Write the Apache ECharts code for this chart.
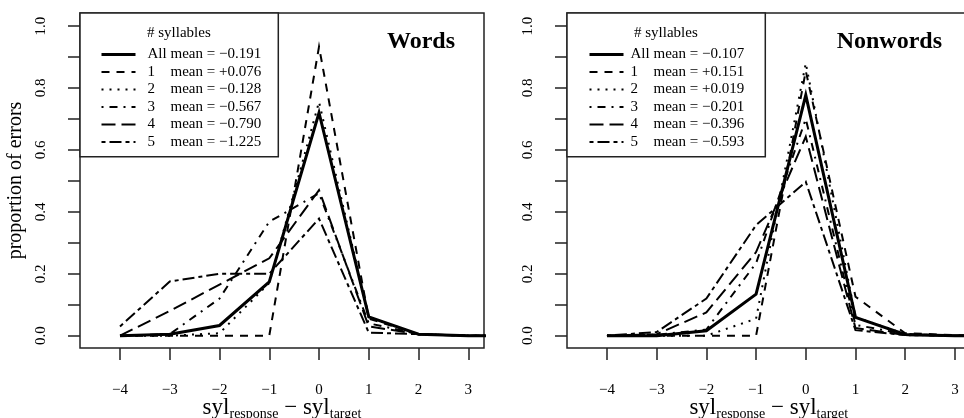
<!DOCTYPE html>
<html>
<head>
<meta charset="utf-8">
<script src="https://cdn.jsdelivr.net/npm/echarts@6/dist/echarts.min.js"></script>
<style>
  html, body { margin: 0; padding: 0; background: #fff; }
  #chart { width: 964px; height: 418px; }
</style>
</head>
<body>
<div id="chart"></div>
<script>
// Difference in syllable count between response and target
const xs = [-4, -3, -2, -1, 0, 1, 2, 3, 4];
const xTicks = [-4, -3, -2, -1, 0, 1, 2, 3];
const yTicks = [0, 0.1, 0.2, 0.3, 0.4, 0.5, 0.6, 0.7, 0.8, 0.9, 1.0];
const yLabels = [0, 0.2, 0.4, 0.6, 0.8, 1.0];

const groups = ['All', '1', '2', '3', '4', '5'];
const wordsMeans = ['\u22120.191', '+0.076', '\u22120.128', '\u22120.567', '\u22120.790', '\u22121.225'];
const nonwordsMeans = ['\u22120.107', '+0.151', '+0.019', '\u22120.201', '\u22120.396', '\u22120.593'];

// Proportion of errors, words
const wordsAll = [0, 0.005, 0.033, 0.174, 0.72, 0.061, 0.005, 0, 0];
const words1 = [0, 0, 0, 0, 0.933, 0.055, 0.005, 0, 0];
const words2 = [0, 0, 0.008, 0.17, 0.755, 0.06, 0.005, 0, 0];
const words3 = [0, 0.005, 0.12, 0.368, 0.46, 0.04, 0.005, 0, 0];
const words4 = [0, 0.08, 0.165, 0.25, 0.47, 0.03, 0.005, 0, 0];
const words5 = [0.03, 0.175, 0.2, 0.2, 0.378, 0.01, 0.005, 0, 0];

// Proportion of errors, nonwords
const nonwordsAll = [0, 0, 0.016, 0.134, 0.777, 0.059, 0.004, 0, 0];
const nonwords1 = [0, 0, 0, 0, 0.855, 0.126, 0.008, 0.002, 0];
const nonwords2 = [0, 0, 0, 0.055, 0.88, 0.06, 0.005, 0, 0];
const nonwords3 = [0, 0.003, 0.02, 0.234, 0.70, 0.035, 0.005, 0, 0];
const nonwords4 = [0, 0.005, 0.075, 0.27, 0.643, 0.025, 0.002, 0, 0];
const nonwords5 = [0, 0.012, 0.12, 0.357, 0.497, 0.018, 0.002, 0, 0];

const wordsSeries = [wordsAll, words1, words2, words3, words4, words5];
const nonwordsSeries = [nonwordsAll, nonwords1, nonwords2, nonwords3, nonwords4, nonwords5];

const FONT = 'Liberation Serif';
const INK = '#000';
const FRAME = '#222';

// R-style line types: solid, dashed, dotted, dotdash, longdash, twodash
const lineTypes = ['solid', [8, 7], [2, 6], [2, 6, 8, 6], [14, 6], [4, 4, 12, 4]];
const lineWidths = [3, 2, 2, 2, 2, 2];

function seriesName(group, mean) {
  return group + ' mean = ' + mean;
}

function buildSeries(values, means, gridIndex) {
  return values.map(function (vals, i) {
    return {
      type: 'line',
      name: seriesName(groups[i], means[i]),
      xAxisIndex: gridIndex,
      yAxisIndex: gridIndex,
      symbol: 'none',
      silent: true,
      animation: false,
      clip: true,
      z: 10 - i,
      itemStyle: { color: INK },
      lineStyle: { color: INK, width: lineWidths[i], type: lineTypes[i], cap: 'butt', join: 'miter' },
      data: xs.map(function (x, k) { return [x, vals[k]]; })
    };
  });
}

function xAxisFor(gridIndex) {
  return {
    type: 'value',
    gridIndex: gridIndex,
    min: -4.804,
    max: 3.316,
    axisLine: { show: false, onZero: false },
    splitLine: { show: false },
    axisTick: { show: true, customValues: xTicks, length: 12, lineStyle: { color: FRAME, width: 1.5 } },
    axisLabel: {
      customValues: xTicks,
      margin: 35,
      color: INK,
      fontFamily: FONT,
      fontSize: 15,
      formatter: function (v) { return v < 0 ? '\u2212' + Math.abs(v) : String(v); }
    },
    name: '{m|syl}{s|response}{m| \u2212 syl}{s|target}',
    nameLocation: 'middle',
    nameMoveOverlap: false,
    nameGap: 47,
    nameTextStyle: {
      color: INK,
      fontFamily: FONT,
      rich: {
        m: { fontFamily: FONT, fontSize: 23, lineHeight: 26, color: INK },
        s: { fontFamily: FONT, fontSize: 14, lineHeight: 13, verticalAlign: 'bottom', color: INK }
      }
    }
  };
}

function yAxisFor(gridIndex, withName) {
  return {
    type: 'value',
    gridIndex: gridIndex,
    min: -0.0397,
    max: 1.042,
    axisLine: { show: false, onZero: false },
    splitLine: { show: false },
    axisTick: { show: true, customValues: yTicks, length: 12, lineStyle: { color: FRAME, width: 1.5 } },
    axisLabel: {
      customValues: yLabels,
      rotate: 90,
      margin: 31,
      color: INK,
      fontFamily: FONT,
      fontSize: 15,
      formatter: function (v) { return v.toFixed(1); }
    },
    name: withName ? 'proportion of errors' : '',
    nameLocation: 'middle',
    nameMoveOverlap: false,
    nameGap: 54,
    nameTextStyle: { color: INK, fontFamily: FONT, fontSize: 20 }
  };
}

function legendFor(means, left, top, spacer) {
  return {
    orient: 'vertical',
    left: left,
    top: top,
    padding: 0,
    itemGap: 2.5,
    itemWidth: 34,
    itemHeight: 14,
    selectedMode: false,
    itemStyle: { opacity: 0 },
    lineStyle: { width: 'inherit', type: 'inherit', color: 'inherit' },
    data: groups.map(function (g, i) { return seriesName(g, means[i]); }),
    formatter: function (name) {
      const first = name.split(' ')[0];
      const rest = name.slice(first.length + 1);
      return '{sp|}{n|' + first + '}{m|' + rest + '}';
    },
    textStyle: {
      color: INK,
      fontFamily: FONT,
      fontSize: 15,
      rich: {
        sp: { width: spacer },
        n: { width: 23, fontFamily: FONT, fontSize: 15, color: INK },
        m: { fontFamily: FONT, fontSize: 15, color: INK }
      }
    }
  };
}

const chart = echarts.init(document.getElementById('chart'), null, { renderer: 'canvas' });

const gridBase = { top: 13, height: 335, show: true, borderColor: FRAME, borderWidth: 1.5, backgroundColor: 'transparent', containLabel: false, outerBoundsMode: 'none' };

chart.setOption({
  backgroundColor: '#fff',
  animation: false,
  textStyle: { fontFamily: FONT },
  grid: [
    Object.assign({ left: 80, width: 404 }, gridBase),
    Object.assign({ left: 567, width: 403.6 }, gridBase)
  ],
  xAxis: [xAxisFor(0), xAxisFor(1)],
  yAxis: [yAxisFor(0, true), yAxisFor(1, false)],
  title: [
    { text: 'Words', right: 509, top: 30, padding: 0, textStyle: { fontFamily: FONT, fontSize: 24, fontWeight: 'bold', color: INK } },
    { text: 'Nonwords', right: 22, top: 30, padding: 0, textStyle: { fontFamily: FONT, fontSize: 24, fontWeight: 'bold', color: INK } },
    { text: '# syllables', left: 147, top: 26, padding: 0, textStyle: { fontFamily: FONT, fontSize: 15, fontWeight: 'normal', color: INK } },
    { text: '# syllables', left: 634, top: 26, padding: 0, textStyle: { fontFamily: FONT, fontSize: 15, fontWeight: 'normal', color: INK } }
  ],
  legend: [
    legendFor(wordsMeans, 100, 47, 7),
    legendFor(nonwordsMeans, 588, 47, 2)
  ],
  graphic: [
    { type: 'rect', z: 3, silent: true, shape: { x: 80, y: 13, width: 198.3, height: 143.7 }, style: { fill: '#fff', stroke: FRAME, lineWidth: 1.5 } },
    { type: 'rect', z: 3, silent: true, shape: { x: 567, y: 13, width: 198.3, height: 143.7 }, style: { fill: '#fff', stroke: FRAME, lineWidth: 1.5 } }
  ],
  series: buildSeries(wordsSeries, wordsMeans, 0).concat(buildSeries(nonwordsSeries, nonwordsMeans, 1))
});
</script>
</body>
</html>
